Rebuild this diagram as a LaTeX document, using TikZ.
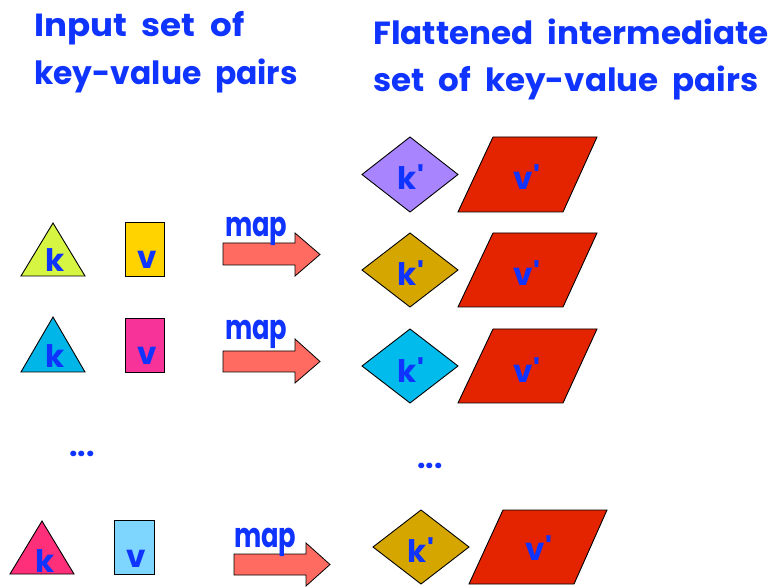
\documentclass[tikz,border=0pt]{standalone}
\usepackage{fontspec}
\setmainfont{Poppins}
\newfontfamily\ttlfont{Poppins}
\newfontfamily\lblfont{Poppins}
\definecolor{tblue}{RGB}{16,52,255}
\definecolor{triA}{RGB}{213,245,66}
\definecolor{recA}{RGB}{255,211,0}
\definecolor{triB}{RGB}{0,182,232}
\definecolor{recB}{RGB}{247,51,153}
\definecolor{triC}{RGB}{255,47,122}
\definecolor{recC}{RGB}{126,214,255}
\definecolor{diaA}{RGB}{168,132,255}
\definecolor{diaB}{RGB}{214,166,0}
\definecolor{diaC}{RGB}{0,187,235}
\definecolor{paraR}{RGB}{228,35,0}
\definecolor{arrF}{RGB}{255,107,97}
\tikzset{
  shp/.style={draw=black, line width=0.9pt, line join=miter},
  ttl/.style={text=tblue, font=\ttlfont\fontsize{32}{36}\selectfont\bfseries, anchor=base west, inner sep=0pt},
  lbl/.style={text=tblue, font=\lblfont\fontsize{31}{34}\selectfont\bfseries, anchor=base, inner sep=0pt},
  maplbl/.style={text=tblue, font=\lblfont\fontsize{28}{32}\selectfont\bfseries, anchor=base west, inner sep=0pt},
  dotlbl/.style={text=tblue, font=\lblfont\fontsize{30}{30}\selectfont\bfseries, anchor=base, inner sep=0pt},
  blockarr/.style={shp, fill=arrF, line width=0.8pt}
}
\newcommand{\maptext}{\scalebox{0.92}[1.22]{map}}
\newcommand{\wsp}{\hspace*{7pt}}
\begin{document}
\begin{tikzpicture}[x=1pt,y=-1pt]
\useasboundingbox (0,0) rectangle (772,588);
% titles
\node[ttl] (in1) at (34,37) {\scalebox{1.066}[1]{Input \wsp set \wsp of}};
\node[ttl] (in2) at (34,85) {\scalebox{0.98}[1]{key-value \wsp pairs}};
\node[ttl] (fl1) at (373,45) {\scalebox{1.02}[1]{Flattened \wsp intermediate}};
\node[ttl] (fl2) at (373,92) {\scalebox{1.017}[1]{set \wsp of \wsp key-value \wsp pairs}};

% ---- input side ----
% row 2
\draw[shp, fill=triA] (21,276) -- (85,276) -- (53,223) -- cycle;
\draw[shp, fill=recA] (125,222) rectangle (164,276);
\node[lbl] (k1) at (55,272) {k};
\node[lbl] (v1) at (147,269) {v};
\draw[blockarr] (223,243) -- (295,243) -- (295,233) -- (320,254.5) -- (295,276) -- (295,265) -- (223,265) -- cycle;
\node[maplbl] (m1) at (225,237) {\maptext};
% row 3
\draw[shp, fill=triB] (21,372) -- (85,372) -- (53,317) -- cycle;
\draw[shp, fill=recB] (125,318) rectangle (164,372);
\node[lbl] (k2) at (55,368) {k};
\node[lbl] (v2) at (147,365) {v};
\draw[blockarr] (223,351) -- (295,351) -- (295,339) -- (320,361.5) -- (295,383) -- (295,372) -- (223,372) -- cycle;
\node[maplbl] (m2) at (225,340) {\maptext};
% dots
\node[dotlbl] (d1) at (82,456) {...};
\node[dotlbl] (d2) at (430,468) {...};
% row 4
\draw[shp, fill=triC] (10,574) -- (74,574) -- (42,521) -- cycle;
\draw[shp, fill=recC] (114,520) rectangle (154,574);
\node[lbl] (k3) at (45,572) {k};
\node[lbl] (v3) at (136,567) {v};
\draw[blockarr] (234,554) -- (306,554) -- (306,543) -- (330,564.5) -- (306,586) -- (306,575) -- (234,575) -- cycle;
\node[maplbl] (m3) at (234,547) {\maptext};

% ---- output side ----
% row 1
\draw[shp, fill=diaA] (362,174.5) -- (410,137) -- (458,174.5) -- (410,212) -- cycle;
\draw[shp, fill=paraR] (493,137) -- (597,137) -- (563,212) -- (458,212) -- cycle;
\node[lbl] (kp1) at (411,190) {k'};
\node[lbl] (vp1) at (527,190) {v'};
% row 2
\draw[shp, fill=diaB] (362,270) -- (410,233) -- (458,270) -- (410,307) -- cycle;
\draw[shp, fill=paraR] (493,233) -- (597,233) -- (563,307) -- (458,307) -- cycle;
\node[lbl] (kp2) at (411,286) {k'};
\node[lbl] (vp2) at (527,286) {v'};
% row 3
\draw[shp, fill=diaC] (362,366) -- (410,329) -- (458,366) -- (410,403) -- cycle;
\draw[shp, fill=paraR] (493,329) -- (597,329) -- (563,403) -- (458,403) -- cycle;
\node[lbl] (kp3) at (411,382) {k'};
\node[lbl] (vp3) at (527,382) {v'};
% row 4
\draw[shp, fill=diaB] (373,547) -- (421,510) -- (469,547) -- (421,584) -- cycle;
\draw[shp, fill=paraR] (503,510) -- (607,510) -- (574,584) -- (469,584) -- cycle;
\node[lbl] (kp4) at (421,562) {k'};
\node[lbl] (vp4) at (539,560) {v'};
\end{tikzpicture}
\end{document}
